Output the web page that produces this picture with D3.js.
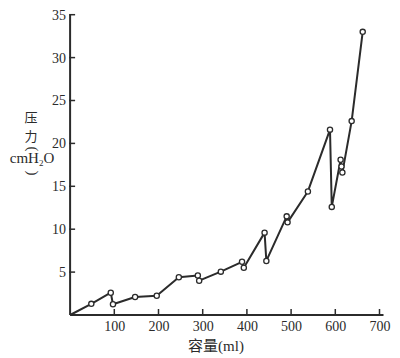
<!DOCTYPE html>
<html>
<head>
<meta charset="utf-8">
<script src="https://cdn.jsdelivr.net/npm/d3@7/dist/d3.min.js"></script>
<style>
  html, body { margin: 0; padding: 0; background: #fff; }
  svg { display: block; }
</style>
</head>
<body>
<svg id="chart" width="400" height="358"></svg>
<script>
// Data
const volume   = [0, 48, 92, 97, 147, 196, 246, 289, 292, 341, 389, 393, 440, 444, 490, 492, 538, 588, 592, 612, 614, 616, 637, 662];
const pressure = [0, 1.3, 2.6, 1.25, 2.1, 2.25, 4.4, 4.6, 4.0, 5.05, 6.2, 5.5, 9.6, 6.3, 11.5, 10.8, 14.4, 21.6, 12.6, 18.1, 17.3, 16.6, 22.6, 33.0];
const xTicks = [100, 200, 300, 400, 500, 600, 700];
const yTicks = [5, 10, 15, 20, 25, 30, 35];
const xTitleCJK = "容量";
const xTitleUnit = "(ml)";
const yTitleChars = ["压", "力"];
const yTitleUnit = "cmH";

const svg = d3.select("#chart");
const ink = "#2b2b2b";
const x = d3.scaleLinear().domain([0, 700]).range([70.1, 379.5]);
const y = d3.scaleLinear().domain([0, 35]).range([315, 14.7]);
const serif = "'Liberation Serif', 'DejaVu Serif', serif";
const cjk = "'Noto Sans CJK SC', sans-serif";

// X axis
const xAxis = d3.axisBottom(x).tickValues(xTicks).tickSize(0).tickPadding(6).tickFormat(d3.format("d"));
const gx = svg.append("g").attr("transform", `translate(0,${y(0)})`).call(xAxis);
gx.select(".domain").remove();
gx.selectAll("text").attr("font-family", serif).attr("font-size", 14).attr("fill", ink);
svg.append("line").attr("x1", x(0)).attr("x2", x(700) + 4).attr("y1", y(0)).attr("y2", y(0))
  .attr("stroke", ink).attr("stroke-width", 2);
svg.selectAll(".xt").data(xTicks).join("line").attr("class", "xt")
  .attr("x1", d => x(d)).attr("x2", d => x(d)).attr("y1", y(0)).attr("y2", y(0) - 6)
  .attr("stroke", ink).attr("stroke-width", 1.5);

// Y axis
const yAxis = d3.axisLeft(y).tickValues(yTicks).tickSize(0).tickPadding(4).tickFormat(d3.format("d"));
const gy = svg.append("g").attr("transform", `translate(${x(0)},0)`).call(yAxis);
gy.select(".domain").remove();
gy.selectAll("text").attr("font-family", serif).attr("font-size", 14).attr("fill", ink);
svg.append("line").attr("x1", x(0)).attr("x2", x(0)).attr("y1", y(0)).attr("y2", y(35))
  .attr("stroke", ink).attr("stroke-width", 2);
svg.selectAll(".yt").data(yTicks).join("line").attr("class", "yt")
  .attr("x1", x(0) - 1).attr("x2", x(0) + 5).attr("y1", d => y(d)).attr("y2", d => y(d))
  .attr("stroke", ink).attr("stroke-width", 1.5);

// X title
const xt = svg.append("text").attr("x", 216).attr("y", 351).attr("text-anchor", "middle").attr("fill", ink);
xt.append("tspan").attr("font-family", cjk).attr("font-size", 15).text(xTitleCJK);
xt.append("tspan").attr("font-family", serif).attr("font-size", 15).text(xTitleUnit);

// Y title
yTitleChars.forEach((c, i) => {
  svg.append("text").attr("x", 31).attr("y", 122 + i * 19).attr("text-anchor", "middle")
    .attr("font-family", cjk).attr("font-size", 13).attr("fill", ink).text(c);
});
svg.append("g").attr("transform", "translate(33,149)")
  .append("text").attr("transform", "rotate(90)").attr("text-anchor", "middle")
  .attr("dy", "0.32em").attr("font-family", serif).attr("font-size", 15).attr("fill", ink).text("(");
const t = svg.append("text").attr("x", 32).attr("y", 163).attr("text-anchor", "middle")
  .attr("font-family", serif).attr("font-size", 15).attr("fill", ink);
t.append("tspan").text(yTitleUnit);
t.append("tspan").attr("font-size", 9).attr("dy", 3).text("2");
t.append("tspan").attr("dy", -3).text("O");
svg.append("g").attr("transform", "translate(33,173)")
  .append("text").attr("transform", "rotate(90)").attr("text-anchor", "middle")
  .attr("dy", "0.32em").attr("font-family", serif).attr("font-size", 15).attr("fill", ink).text(")");

// Line and points
const pts = volume.map((v, i) => [v, pressure[i]]);
svg.append("path").datum(pts)
  .attr("d", d3.line().x(d => x(d[0])).y(d => y(d[1])))
  .attr("fill", "none").attr("stroke", ink).attr("stroke-width", 2).attr("stroke-linejoin", "round");
svg.selectAll(".pt").data(pts.slice(1)).join("circle").attr("class", "pt")
  .attr("cx", d => x(d[0])).attr("cy", d => y(d[1])).attr("r", 2.6)
  .attr("fill", "#fff").attr("stroke", ink).attr("stroke-width", 1.3);
</script>
</body>
</html>
